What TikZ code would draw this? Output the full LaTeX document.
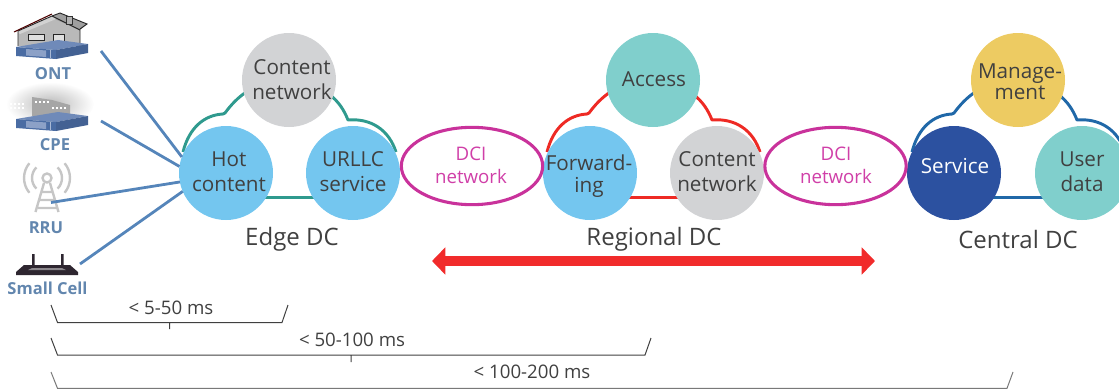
\documentclass[tikz,border=0pt]{standalone}
\usepackage{fontspec}
\setmainfont{Open Sans}
\usetikzlibrary{arrows.meta,shapes.geometric}
\definecolor{txtc}{HTML}{404040}
\definecolor{lblue}{HTML}{74C6EF}
\definecolor{lgrey}{HTML}{D2D3D5}
\definecolor{lteal}{HTML}{80CFCC}
\definecolor{lyel}{HTML}{EDCB62}
\definecolor{dblue}{HTML}{2C51A0}
\definecolor{magline}{HTML}{C9329B}
\definecolor{magtxt}{HTML}{D03FA8}
\definecolor{cltl}{HTML}{2F9A8E}
\definecolor{clred}{HTML}{EE2A24}
\definecolor{clblu}{HTML}{2068A8}
\definecolor{conn}{HTML}{5585BA}
\definecolor{icontxt}{HTML}{6286AE}
\definecolor{devtop}{HTML}{6F8AB9}
\definecolor{devfront}{HTML}{4A6CA3}
\definecolor{antgr}{HTML}{C6C6C6}
\definecolor{rout}{HTML}{2E2630}
\definecolor{arrred}{HTML}{F12B2B}
\tikzset{
  x=0.75pt,y=-0.75pt,
  circ/.style={circle,minimum size=70.5pt,inner sep=0pt,outer sep=0pt},
  big/.style={text=txtc,font=\fontsize{15.5}{18.8}\selectfont,align=center,inner sep=0pt},
  bigtight/.style={text=txtc,font=\fontsize{15.5}{15.5}\selectfont,align=center,inner sep=0pt},
  bigmid/.style={text=txtc,font=\fontsize{15.5}{17}\selectfont,align=center,inner sep=0pt},
  dctitle/.style={text=txtc,font=\fontsize{18}{20}\selectfont,inner sep=0pt},
  dcitxt/.style={text=magtxt,font=\fontsize{14}{17.5}\selectfont,align=center,inner sep=0pt},
  dci/.style={ellipse,draw=magline,line width=2.3pt,fill=white,minimum width=106pt,minimum height=58pt,inner sep=0pt,outer sep=0pt},
  cloudline/.style={line width=2.2pt,line join=round},
  feed/.style={conn,line width=2.1pt},
  icolbl/.style={text=icontxt,font=\fontsize{12.4}{14}\selectfont\bfseries,inner sep=0pt},
  brk/.style={txtc,line width=0.75pt},
  msl/.style={text=txtc,font=\fontsize{14}{16}\selectfont,inner sep=0pt},
  redarrow/.style={arrred,line width=8pt,{Triangle[length=10pt,width=20pt]}-{Triangle[length=10pt,width=20pt]}},
}
\newcommand{\dccloud}[3]{%
  \begin{scope}[shift={(#1,#2)}]
    \draw[#3,cloudline] (-106,72) .. controls (-100,48) and (-85,35) .. (-66,34)
       -- (-64,33) .. controls (-58,25) and (-52,18) .. (-40,10);
    \draw[#3,cloudline] (40,14) .. controls (50,22) and (55,30) .. (59,40)
       .. controls (82,38) and (100,50) .. (107,72);
    \draw[#3,cloudline] (-70,117.5) -- (70,117.5);
  \end{scope}}
\newcommand{\devicebox}[1]{%
  \begin{scope}[yshift=-#1*0.75pt]
    \fill[devtop] (16,47) -- (58,40) -- (88,44) -- (56,50) -- cycle;
    \fill[devfront] (16,47) -- (56,50) -- (56,59) -- (16,56) -- cycle;
    \fill[devfront!90!black] (56,50) -- (88,44) -- (88,53) -- (56,59) -- cycle;
    \fill[devtop!80!white] (26,49) -- (46,50.5) -- (46,57) -- (26,55.5) -- cycle;
    \draw[devtop!60!white,line width=0.5pt] (50,50) -- (50,58);
  \end{scope}}
\begin{document}
\begin{tikzpicture}
\useasboundingbox (0,0) rectangle (1119,389);
% clouds
\dccloud{289}{80}{cltl}
\dccloud{653}{80}{clred}
\dccloud{1018}{80}{clblu}
% circles
\node[circ,fill=lgrey] (e1) at (289,80) {};
\node[circ,fill=lblue] (hot) at (226,173) {};
\node[circ,fill=lblue] (e3) at (353,173) {};
\node[circ,fill=lteal] (r1) at (653,80) {};
\node[circ,fill=lblue] (r2) at (590,173) {};
\node[circ,fill=lgrey] (r3) at (717,173) {};
\node[circ,fill=lyel] (c1) at (1018,80) {};
\node[circ,fill=dblue] (c2) at (954,173) {};
\node[circ,fill=lteal] (c3) at (1082,173) {};
% circle texts
\node[big] (te1) at (292,80) {Content\\network};
\node[big] (thot) at (229,172) {Hot\\content};
\node[big] (te3) at (353,172) {URLLC\\service};
\node[big] (tr1) at (654,79) {Access};
\node[bigmid] (tr2) at (589,176) {Forward-\\ing};
\node[big] (tr3) at (717,172) {Content\\network};
\node[bigtight] (tc1) at (1020,82) {Manage-\\ment};
\node[big,text=white] (tc2) at (955,166) {Service};
\node[big] (tc3) at (1082,172) {User\\data};
% DCI
\node[dci] (d1) at (472,166) {};
\node[dci] (d2) at (835.5,166) {};
\node[dcitxt] (td1) at (471,165) {DCI\\network};
\node[dcitxt] (td2) at (836,165) {DCI\\network};
% titles
\node[dctitle] (t1) at (292,239) {Edge DC};
\node[dctitle] (t2) at (654,239) {Regional DC};
\node[dctitle] (t3) at (1018,239) {Central DC};
% red arrow
\coordinate (al) at (432,261);
\coordinate (ar) at (875,261);
\draw[redarrow] (al) -- (ar);
% ONT icon
\fill[gray!55] (18,32) -- (52,17) -- (80,30) -- (80,46) -- (18,46) -- cycle;
\fill[gray!75] (50,17) -- (60,13) -- (87,24) -- (80,30) -- cycle;
\fill[gray!35] (18,32) -- (52,16) -- (56,19) -- (20,34) -- cycle;
\draw[black!85,line width=0.7pt,line join=round] (18,46) -- (18,31) -- (52,16) -- (80,30) -- (80,46);
\draw[black!85,line width=0.7pt] (52,16) -- (60,13) -- (87,24) -- (80,29);
\draw[black!70!red,line width=0.8pt] (14,32) -- (52,14);
\fill[gray!60,draw=black!80,line width=0.5pt] (66,16) rectangle (72,24);
\draw[black!85,line width=0.6pt,fill=gray!25] (28,34) rectangle (44,40);
\draw[black!85,line width=0.6pt,fill=gray!25] (53,34) rectangle (64,43);
\devicebox{0}
\node[icolbl] (ont) at (53,74) {ONT};
% CPE icon
\shade[inner color=gray!55,outer color=white] (50,104) ellipse[x radius=44,y radius=22];
\fill[gray!70] (32,97) -- (52,100) -- (70,105) -- (70,116) -- (32,116) -- cycle;
\foreach \wx in {35,39,43,47}{\fill[white] (\wx,101) rectangle ++(2.4,2);}
\foreach \wx in {52,56,60,64}{\fill[white] (\wx,107) rectangle ++(2.4,2.4);}
\foreach \wx in {10,14,18,22}{\fill[white] (\wx,103) rectangle ++(2.4,2);\fill[white] (\wx,107) rectangle ++(2.4,2);}
\devicebox{72}
\node[icolbl] (cpe) at (55,145) {CPE};
% RRU icon
\begin{scope}[antgr,line width=1.8pt]
  \draw (47,178) circle[radius=4.5];
  \draw (44,183) -- (35.5,212) (50,183) -- (58.5,212) (40,200) -- (54,200) (38,208) -- (56,208) (42,192) -- (52,192);
  \draw (36.4,167.4) arc[start angle=225,end angle=135,radius=15];
  \draw (57.6,167.4) arc[start angle=-45,end angle=45,radius=15];
  \draw (29.4,163.2) arc[start angle=220,end angle=140,radius=23];
  \draw (64.6,163.2) arc[start angle=-40,end angle=40,radius=23];
\end{scope}
\node[icolbl] (rru) at (46,228) {RRU};
% Small cell icon
\fill[rout] (32,254) rectangle (34.5,266) (61,254) rectangle (63.5,266);
\fill[rout] (16,275) -- (16,272) -- (24,265) -- (70,265) -- (78,272) -- (78,275) -- cycle;
\fill[rout!55!white] (28,270) -- (66,270) -- (62,268) -- (32,268) -- cycle;
\node[icolbl] (sc) at (47.5,288) {Small Cell};
% connectors
\coordinate (pont) at (101,51);
\coordinate (pcpe) at (101,121);
\coordinate (prru) at (51,202.5);
\coordinate (psc) at (80,264);
\draw[feed] (pont) -- (hot.160);
\draw[feed] (pcpe) -- (hot.172);
\draw[feed] (prru) -- (hot.191);
\draw[feed] (psc) -- (hot.203);
% brackets
\coordinate (b1a) at (51,305);\coordinate (b1b) at (57.5,322.5);\coordinate (b1c) at (282,322.5);\coordinate (b1d) at (288,305);
\coordinate (b1t) at (169.5,322.5);\coordinate (b1e) at (169.5,329);
\draw[brk] (b1a) -- (b1b) -- (b1c) -- (b1d) (b1t) -- (b1e);
\coordinate (b2a) at (51,338);\coordinate (b2b) at (57.5,355);\coordinate (b2c) at (645,355);\coordinate (b2d) at (651,338);
\coordinate (b2t) at (351,355);\coordinate (b2e) at (351,362);
\draw[brk] (b2a) -- (b2b) -- (b2c) -- (b2d) (b2t) -- (b2e);
\coordinate (b3a) at (51,372);\coordinate (b3b) at (57.5,388.3);\coordinate (b3c) at (1007,388.3);\coordinate (b3d) at (1013,372);
\draw[brk,txtc!70] (b3a) -- (b3b) -- (b3c) -- (b3d);
\node[msl] (m1) at (171,308) {< 5-50 ms};
\node[msl] (m2) at (352,340) {< 50-100 ms};
\node[msl] (m3) at (532,372) {< 100-200 ms};
\end{tikzpicture}
\end{document}
